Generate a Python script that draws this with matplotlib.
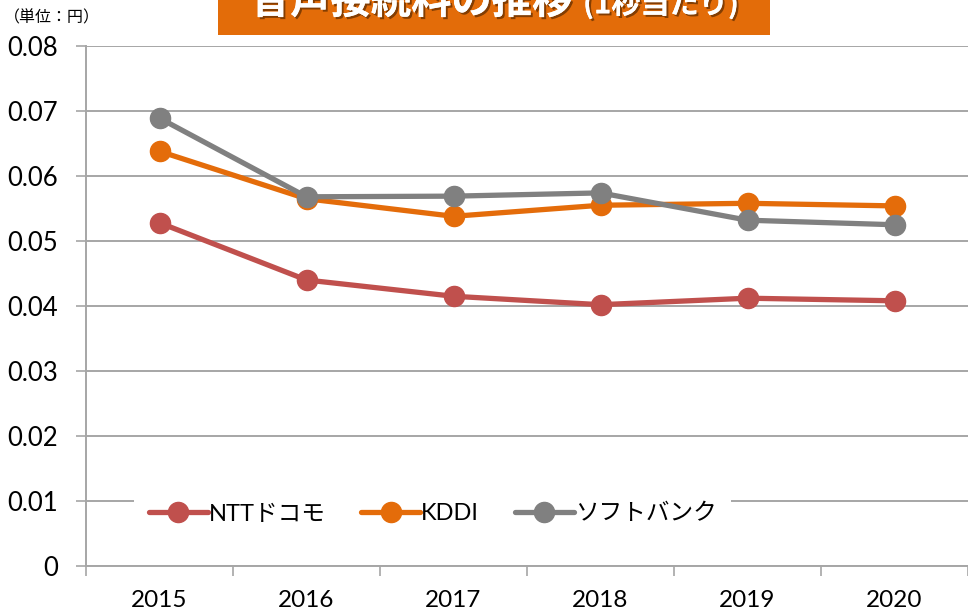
import matplotlib
matplotlib.use("Agg")
import matplotlib.pyplot as plt
from matplotlib.patches import Rectangle
import matplotlib.patheffects as pe

years = ["2015", "2016", "2017", "2018", "2019", "2020"]
ntt = [0.0528, 0.0440, 0.0415, 0.0402, 0.0412, 0.0408]
kddi = [0.0638, 0.0565, 0.0538, 0.0555, 0.0558, 0.0554]
softbank = [0.0689, 0.0568, 0.0569, 0.0574, 0.0532, 0.0525]
series_names = ["NTTドコモ", "KDDI", "ソフトバンク"]
series_colors = ["#C0504D", "#E46C0A", "#808080"]
y_ticks = [0, 0.01, 0.02, 0.03, 0.04, 0.05, 0.06, 0.07, 0.08]
y_tick_labels = ["0", "0.01", "0.02", "0.03", "0.04", "0.05", "0.06", "0.07", "0.08"]
title_main = "音声接続料の推移"
title_sub = "(1秒当たり)"
unit_label = "（単位：円）"

plt.rcParams['font.family'] = ['Lato', 'Noto Sans CJK JP', 'DejaVu Sans']

fig = plt.figure(figsize=(9.68, 6.16), dpi=100)
ax = fig.add_axes([86/968, 1-566/616, 882/968, 520/616])

x = list(range(len(years)))
for vals, name, col in zip([ntt, kddi, softbank], series_names, series_colors):
    ax.plot(x, vals, color=col, lw=3.8, marker='o', markersize=14.5, label=name,
            solid_capstyle='round', zorder=3)

ax.set_xlim(-0.5, len(years) - 0.5)
ax.set_ylim(0, 0.08)
ax.set_yticks(y_ticks)
ax.set_yticklabels(y_tick_labels)
ax.yaxis.grid(True, color='#A6A6A6', lw=1.4)
ax.set_axisbelow(True)

ax.set_xticks([i - 0.5 for i in range(len(years) + 1)])
ax.set_xticklabels([])
ax.set_xticks(x, minor=True)
ax.set_xticklabels(years, minor=True)
ax.tick_params(axis='x', which='major', length=7, width=1.2, color='#A6A6A6', direction='out')
ax.tick_params(axis='x', which='minor', length=0, pad=17, labelsize=17.5)
ax.tick_params(axis='y', length=7, width=1.2, color='#A6A6A6', direction='out', pad=13, labelsize=18.5)

for s in ['top', 'right']:
    ax.spines[s].set_visible(False)
for s in ['left', 'bottom']:
    ax.spines[s].set_color('#A6A6A6')
    ax.spines[s].set_linewidth(1.4)

leg = ax.legend(loc='center', bbox_to_anchor=(0.393, 0.100), ncol=3, frameon=True,
                fontsize=17, handlelength=2.5, columnspacing=1.5, handletextpad=0.05,
                borderpad=0.6, fancybox=False)
leg.get_frame().set_facecolor('white')
leg.get_frame().set_edgecolor('none')
leg.get_frame().set_alpha(1.0)

# Title box (clipped at the top edge, as in the original)
fig.patches.append(Rectangle((218/968, 1-35/616), 552/968, 40/616, transform=fig.transFigure,
                             facecolor='#E36C09', edgecolor='none', zorder=5))
shadow = [pe.withSimplePatchShadow(offset=(1.5, -1.5), shadow_rgbFace='#5a2a00', alpha=0.7), pe.Normal()]
fig.text(411/968, 1-2/616, title_main, color='white', fontsize=29, fontweight='bold',
         ha='center', va='center', zorder=6, family=['Noto Sans CJK JP', 'DejaVu Sans'],
         path_effects=shadow)
fig.text(661/968, 1-4/616, title_sub, color='white', fontsize=21, fontweight='bold',
         ha='center', va='center', zorder=6, family=['Noto Sans CJK JP', 'DejaVu Sans'],
         path_effects=shadow)
fig.text(4/968, 1-18/616, unit_label, color='black', fontsize=11.5, ha='left', va='center',
         family=['Noto Sans CJK JP', 'DejaVu Sans'])

fig.savefig('out.png', dpi=100)
